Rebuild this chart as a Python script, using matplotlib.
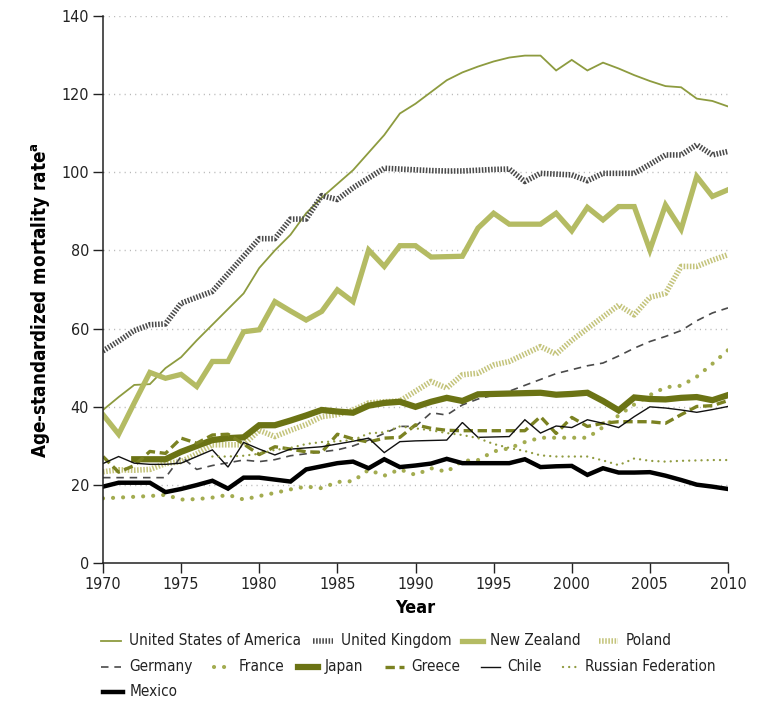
import numpy as np
import matplotlib
matplotlib.use("Agg")
import matplotlib.pyplot as plt
from matplotlib.lines import Line2D

plt.rcParams['font.family'] = ['DejaVu Sans']
plt.rcParams['font.stretch'] = 'condensed'

years = list(range(1970, 2011))

usa = [39.2, 42.5, 45.6, 45.8, 49.9, 52.7, 57, 61, 65, 69, 75.5, 80, 84, 89.5, 93.5, 97, 100.5, 105, 109.5, 115, 117.5,
       120.5, 123.5, 125.5, 127, 128.3, 129.3, 129.8, 129.8, 126, 128.7, 126, 128, 126.5, 124.8, 123.3, 122, 121.7, 118.8, 118.2, 116.8]
uk = [54.3, 56.8, 59.5, 61, 61.2, 66.5, 68, 69.5, 74, 78.5, 83, 83, 88, 88, 94, 93, 96, 98.5, 101, 100.8, 100.6,
      100.4, 100.3, 100.3, 100.5, 100.7, 100.8, 97.6, 99.7, 99.5, 99.3, 97.8, 99.7, 99.7, 99.7, 102, 104.4, 104.4, 107, 104.4, 105.3]
nz = [38, 33, 41, 48.8, 47.3, 48.3, 45.2, 51.6, 51.6, 59.2, 59.7, 66.9, 64.5, 62.2, 64.4, 69.9, 66.9, 80.1, 75.9, 81.2, 81.2,
      78.3, 78.4, 78.5, 85.7, 89.5, 86.7, 86.7, 86.7, 89.5, 85, 91, 87.8, 91.2, 91.2, 80.1, 91.6, 85.4, 98.9, 93.8, 95.5]
poland = [23.4, 23.9, 23.8, 24, 25.5, 26, 28, 30.3, 30.3, 30.3, 34, 32.4, 34, 35.5, 37.5, 38, 39.2, 41, 41.3, 41.5, 44,
          46.5, 44.8, 48.2, 48.6, 50.7, 51.6, 53.5, 55.4, 53.5, 57, 60, 63, 66, 63.5, 68, 69, 75.9, 75.9, 77.5, 78.9]
germany = [21.9, 21.9, 21.9, 21.9, 21.9, 27.3, 24, 25, 25.7, 26.4, 26, 26.5, 27.5, 28, 28.5, 29, 30, 31.5, 33.2, 35, 35,
           38.5, 37.9, 40.5, 42, 43, 44, 45.5, 47, 48.5, 49.5, 50.5, 51.2, 53, 55, 56.7, 58, 59.5, 62, 64, 65.3]
france = [16.6, 16.8, 17, 17.2, 17.5, 16.3, 16.4, 16.8, 17.5, 16.3, 17.2, 18, 18.9, 19.6, 19.2, 20.8, 21, 23.9, 22.4, 24, 22.6,
          24.3, 23.4, 26.2, 26.4, 28.6, 29.4, 31, 32.1, 32.1, 32.1, 32.1, 34.8, 37.8, 40.6, 43, 45, 45.4, 47.7, 51, 54.5]
japan = [np.nan, np.nan, 26.6, 26.6, 26.6, 28.5, 30, 31.5, 32, 32.2, 35.3, 35.3, 36.5, 37.8, 39.2, 38.8, 38.5, 40.3, 41, 41.3, 40,
         41.3, 42.3, 41.5, 43.2, 43.3, 43.4, 43.5, 43.6, 43.1, 43.3, 43.6, 41.5, 39.1, 42.4, 42, 41.9, 42.3, 42.5, 41.7, 43]
greece = [27.3, 23.3, 25, 28.6, 28.1, 32, 30.7, 32.8, 33, 30.5, 27.8, 29.8, 29.2, 28.5, 28.4, 33, 31.8, 31, 32, 32.2, 35.4,
          34.5, 34, 33.9, 33.9, 33.9, 33.9, 33.9, 37.5, 33.2, 37.3, 35, 35.8, 36.2, 36.2, 36.2, 35.8, 38, 40.1, 40.3, 41.6]
chile = [25.5, 27.3, 25.6, 25.3, 25.3, 25.6, 27.3, 29, 24.6, 30.9, 29.2, 27.7, 29.2, 29.5, 29.8, 30.5, 31.2, 32, 28.3, 31.1, 31.3,
         31.4, 31.5, 36, 32.2, 32.3, 32.4, 36.7, 33.3, 35.1, 34.7, 36.7, 35.8, 34.7, 37.5, 40, 39.7, 39.2, 38.6, 39.3, 40.1]
russia = [np.nan, np.nan, np.nan, np.nan, np.nan, np.nan, np.nan, 27.3, 27.3, 27.5, 28, 29, 29.5, 30.5, 31, 31.2, 31.5, 33.2, 33.5, 35, 34.5,
          34, 33.3, 32.8, 32, 30.5, 29.5, 28.7, 27.6, 27.3, 27.3, 27.3, 26.3, 25.1, 26.8, 26.2, 26, 26.2, 26.3, 26.4, 26.4]
mexico = [19.6, 20.6, 20.6, 20.6, 18.2, 19, 20, 21.1, 19.1, 21.9, 21.9, 21.4, 20.9, 24, 24.8, 25.6, 26, 24.3, 26.6, 24.6, 25,
          25.5, 26.7, 25.6, 25.6, 25.6, 25.6, 26.6, 24.6, 24.8, 24.9, 22.6, 24.3, 23.2, 23.2, 23.3, 22.4, 21.3, 20.1, 19.6, 19]

x_ticks = [1970, 1975, 1980, 1985, 1990, 1995, 2000, 2005, 2010]
y_ticks = [0, 20, 40, 60, 80, 100, 120, 140]

series = [
    ("United States of America", usa, dict(color='#8d9b3f', lw=1.3, ls='-')),
    ("United Kingdom", uk, dict(color='#4a4a4a', lw=4.0, dashes=(0.28, 0.28), dash_capstyle='butt')),
    ("New Zealand", nz, dict(color='#b4bb63', lw=3.8, ls='-')),
    ("Poland", poland, dict(color='#c4c47c', lw=4.0, dashes=(0.28, 0.28), dash_capstyle='butt')),
    ("Germany", germany, dict(color='#4a4a4a', lw=1.2, dashes=(4.5, 3.5))),
    ("France", france, dict(color='#a3ac50', lw=3.0, dashes=(0.01, 2.4), dash_capstyle='round')),
    ("Japan", japan, dict(color='#6b7314', lw=4.5, ls='-')),
    ("Greece", greece, dict(color='#7b8222', lw=2.4, dashes=(2.8, 1.4))),
    ("Chile", chile, dict(color='#111111', lw=1.0, ls='-')),
    ("Russian Federation", russia, dict(color='#909b40', lw=1.7, dashes=(0.01, 2.6), dash_capstyle='round')),
    ("Mexico", mexico, dict(color='#000000', lw=3.2, ls='-')),
]

W, H = 771, 708
fig = plt.figure(figsize=(W / 100, H / 100), dpi=100)
ax = fig.add_axes([103 / W, 1 - 563.3 / H, (728 - 103) / W, (563.3 - 15.7) / H])

for name, vals, st in series:
    ax.plot(years, vals, solid_joinstyle='miter', **st)

ax.set_xlim(1970, 2010)
ax.set_ylim(0, 140)
ax.set_xticks(x_ticks)
ax.set_yticks(y_ticks)
for v in y_ticks[1:]:
    ax.axhline(v, color='#b8b8b8', lw=1.0, dashes=(0.8, 3.0), zorder=0)
for s in ['top', 'right']:
    ax.spines[s].set_visible(False)
for s in ['left', 'bottom']:
    ax.spines[s].set_linewidth(1.1)
    ax.spines[s].set_color('#222222')
ax.tick_params(axis='both', direction='out', length=7, width=1.0, color='#222222',
               labelsize=11.5, labelcolor='#222222', pad=3)

ax.set_xlabel('Year', fontsize=13, fontweight='bold', labelpad=5)
ax.set_ylabel(r'Age-standardized mortality rate$^{\mathregular{a}}$', fontsize=13.5, fontweight='bold', labelpad=6)
ax.yaxis.set_label_coords(-0.08, 0.48)

# legend (manual flow layout)
rows = [
    (640.7, [(0, 101, 121, 129), (1, 313, 333, 341), (2, 462, 483, 490), (3, 599, 618, 626)]),
    (666.7, [(4, 101, 121, 129), (5, 214, 232, 239), (6, 298, 318, 325), (7, 385, 404, 411), (8, 481, 500, 507), (9, 563, 579, 585)]),
    (691.7, [(10, 103, 123, 130)]),
]
for ypx, entries in rows:
    yf = 1 - ypx / H
    for idx, x0, x1, xt in entries:
        name, vals, st = series[idx]
        fig.add_artist(Line2D([x0 / W, x1 / W], [yf, yf], transform=fig.transFigure, **st))
        fig.text(xt / W, yf, name, fontsize=11, color='#222222', va='center', ha='left')

fig.savefig('out.png', dpi=100)
